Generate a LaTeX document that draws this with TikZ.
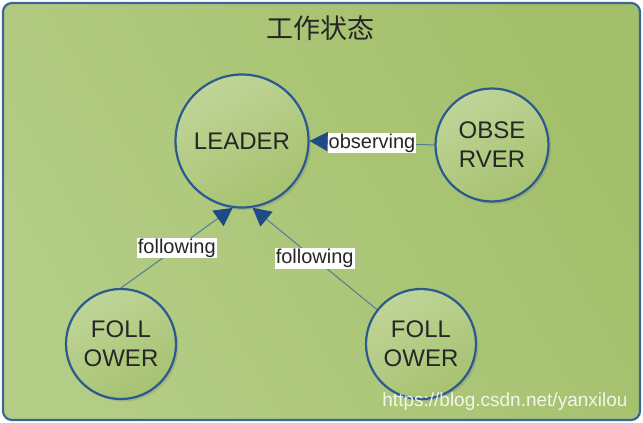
\documentclass[tikz,border=0pt]{standalone}
\usepackage{fontspec}
\setmainfont{Liberation Sans}
\newfontfamily\cjkfont{Noto Sans CJK SC}
\usetikzlibrary{arrows.meta,shadows}
\definecolor{boxblue}{HTML}{3B6797}
\definecolor{ringblue}{HTML}{2C5A8E}
\definecolor{lineblue}{HTML}{4F7C98}
\definecolor{tipblue}{HTML}{1E4A88}
\definecolor{greenlight}{HTML}{B4CD86}
\definecolor{greendark}{HTML}{A3BF6A}
\tikzset{
  role/.style={circle, draw=ringblue, line width=2.2pt, minimum size=#1,
    inner sep=0pt, align=center, font=\fontsize{24}{29}\selectfont,
    text=black!85, top color=greenlight!85!white, bottom color=greendark!80!greenlight,
    shading angle=30,
    drop shadow={shadow xshift=2.5pt, shadow yshift=-2.5pt, opacity=0.3}},
  tag/.style={fill=white, inner sep=1pt, font=\fontsize{20}{22}\selectfont,
    text=black!85},
  link/.style={draw=lineblue, line width=1pt,
    -{Triangle[width=19pt,length=18pt,color=tipblue,fill=tipblue]}}
}
\begin{document}
\begin{tikzpicture}[x=1pt, y=-1pt]
\useasboundingbox (0,0) rectangle (643,423);
% Background box
\path[left color=greenlight, right color=greendark, shading angle=120,
  draw=boxblue, line width=2.2pt, rounded corners=9pt] (3,3) rectangle (640,420);
\node[font=\cjkfont\fontsize{27}{30}\selectfont, text=black!85] (title) at (320,28) {工作状态};
% States
\node[role=133pt] (leader) at (242,141) {LEADER};
\node[role=113pt] (observer) at (492,145) {OBSE\\RVER};
\node[role=110pt] (followerA) at (121,344) {FOLL\\OWER};
\node[role=110pt] (followerB) at (421,344) {FOLL\\OWER};
% Links
\draw[link] (observer.west) -- node[tag] (obslabel) {observing} (leader.east);
\draw[link] (followerA.north) -- node[tag] (folA) {following} (leader.-98);
\draw[link] (followerB.142) -- node[tag] (folB) {following} (leader.-81);
% Watermark
\node[anchor=east, text=white, opacity=0.85, font=\fontsize{19}{21}\selectfont] (mark) at (631,402) {https://blog.csdn.net/yanxilou};
\end{tikzpicture}
\end{document}
